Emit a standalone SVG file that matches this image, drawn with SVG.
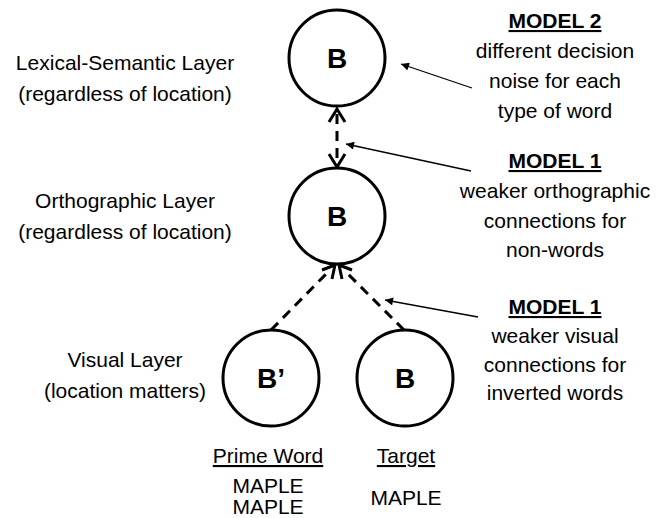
<svg xmlns="http://www.w3.org/2000/svg" width="660" height="518" viewBox="0 0 660 518">
<defs>
<style>
.t{font-family:"Liberation Sans",Arial,sans-serif;font-size:21px;fill:#000;text-anchor:middle}
.h{font-weight:bold;text-decoration:underline}
.u{text-decoration:underline}
.n{fill:#fff;stroke:#000;stroke-width:3}
.b{font-family:"Liberation Sans",Arial,sans-serif;font-size:28px;font-weight:bold;text-anchor:middle}
.d{stroke:#000;stroke-width:3;stroke-dasharray:10,7;fill:none}
.a{stroke:#000;stroke-width:3;fill:none}
.th{stroke:#000;stroke-width:1.3;fill:none}
</style>
<marker id="ah" viewBox="0 0 10 10" refX="10" refY="5" markerWidth="10" markerHeight="8" orient="auto" markerUnits="userSpaceOnUse">
<path d="M0,0 L10,5 L0,10 z" fill="#000"/>
</marker>
</defs>
<g id="labels">
<text class="t" x="125" y="70">Lexical-Semantic Layer</text>
<text class="t" x="125" y="101">(regardless of location)</text>
<text class="t" x="125" y="208">Orthographic Layer</text>
<text class="t" x="125" y="239">(regardless of location)</text>
<text class="t" x="125" y="367">Visual Layer</text>
<text class="t" x="125" y="398">(location matters)</text>
<text class="t h" x="555" y="28">MODEL 2</text>
<text class="t" x="555" y="58">different decision</text>
<text class="t" x="555" y="88">noise for each</text>
<text class="t" x="555" y="118">type of word</text>
<text class="t h" x="555" y="168">MODEL 1</text>
<text class="t" x="555" y="198">weaker orthographic</text>
<text class="t" x="555" y="228">connections for</text>
<text class="t" x="555" y="257">non-words</text>
<text class="t h" x="555" y="314">MODEL 1</text>
<text class="t" x="555" y="343">weaker visual</text>
<text class="t" x="555" y="372">connections for</text>
<text class="t" x="555" y="400">inverted words</text>
<text class="t u" x="268" y="463">Prime Word</text>
<text class="t u" x="406" y="463">Target</text>
<text class="t" x="268" y="493">MAPLE</text>
<text class="t" x="268" y="514">MAPLE</text>
<text class="t" x="406" y="505">MAPLE</text>
</g>
<g id="connectors">
<line class="d" x1="337" y1="114" x2="337" y2="162"/>
<path class="a" d="M329,122 L337,109 L345,122"/>
<path class="a" d="M329,154 L337,167 L345,154"/>
<line class="d" x1="271" y1="330" x2="330" y2="270"/>
<line class="d" x1="404" y1="330" x2="344" y2="270"/>
<path class="a" d="M322,270 L335,265 L332,279"/>
<path class="a" d="M352,270 L339,265 L342,279"/>
<line class="th" x1="472" y1="88" x2="401" y2="64" marker-end="url(#ah)"/>
<line class="th" x1="471" y1="171" x2="346" y2="144" marker-end="url(#ah)"/>
<line class="th" x1="478" y1="317" x2="385" y2="300" marker-end="url(#ah)"/>
</g>
<g id="node-lexical">
<circle class="n" cx="337" cy="58" r="48"/>
<text class="b" x="337" y="68">B</text>
</g>
<g id="node-orthographic">
<circle class="n" cx="337" cy="216" r="48"/>
<text class="b" x="337" y="226">B</text>
</g>
<g id="node-visual-prime">
<circle class="n" cx="271" cy="378" r="48"/>
<text class="b" x="271" y="388">B’</text>
</g>
<g id="node-visual-target">
<circle class="n" cx="405" cy="378" r="48"/>
<text class="b" x="405" y="388">B</text>
</g>
</svg>
